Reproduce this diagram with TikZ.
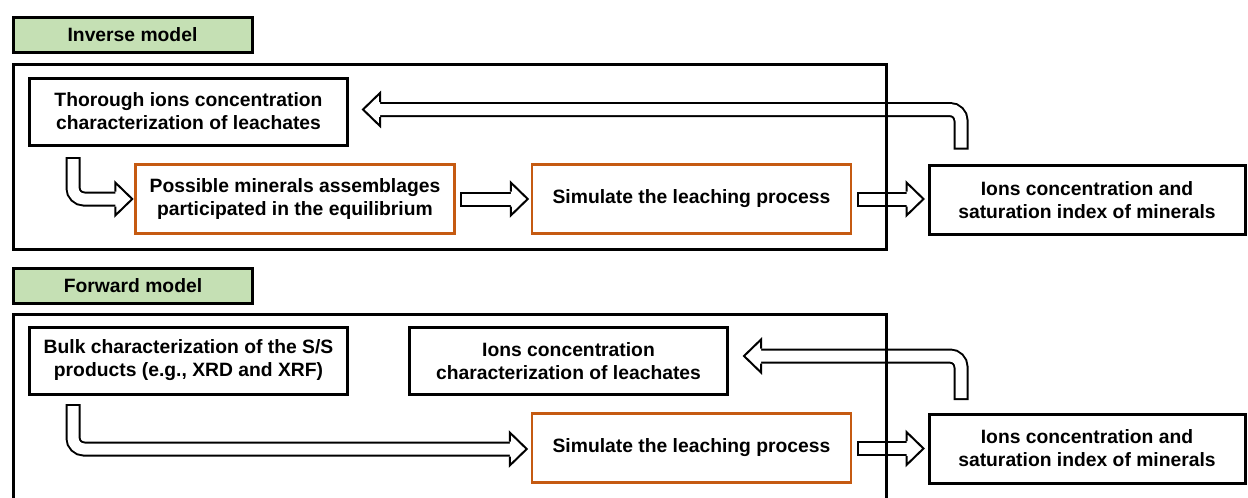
\documentclass[tikz,border=0pt]{standalone}
\usepackage{fontspec}
\setmainfont{Liberation Sans}
\usetikzlibrary{calc}

\definecolor{tabgreen}{HTML}{C5E0B4}
\definecolor{boxorange}{HTML}{C55A11}

% hollow arrow head, tip at #1, pointing along angle #2
\newcommand{\blockhead}[2]{%
  \filldraw[fill=white, line width=2pt, line join=miter, shift={(#1)}, rotate=#2]
    (-17,7.5) -- (-17,16.5) -- (0,0) -- (-17,-16.5) -- (-17,-7.5);}

\begin{document}
\begin{tikzpicture}[x=1pt, y=-1pt,
    every node/.style={font=\fontsize{19.3}{23}\selectfont\bfseries, align=center},
    box/.style={draw, line width=3pt, minimum width=318pt, minimum height=67pt},
    simbox/.style={draw=boxorange, line width=2.5pt, minimum width=319pt, minimum height=69pt},
    outbox/.style={draw, line width=3pt, minimum width=316pt, minimum height=69pt},
    tab/.style={draw, fill=tabgreen, line width=3pt, minimum width=239pt, minimum height=35pt},
    frame/.style={draw, line width=3pt},
    shaft/.style={line width=2pt, double=white, double distance=11pt, line cap=rect, rounded corners=11pt}]
  \useasboundingbox (0,0) rectangle (1248,498);

  % inverse model
  \node[tab] (invtab) at (132.5,35) {Inverse model};
  \node[box] (thorough) at (188.5,111.5) {Thorough ions concentration\\characterization of leachates};
  \node[simbox] (minerals) at (295,199) {Possible minerals assemblages\\participated in the equilibrium};
  \node[simbox] (sim1) at (691.5,199) {Simulate the leaching process};
  \node[outbox] (ions1) at (1087,200) {Ions concentration and\\saturation index of minerals};

  \coordinate (t1) at ($(minerals.west)+(-2,0)$);
  \coordinate (t2) at ($(sim1.west)+(-3,0)$);
  \coordinate (t3) at ($(ions1.west)+(-4,-1)$);
  \coordinate (t4) at ($(thorough.east)+(14,-2)$);
  \draw[shaft] ($(thorough.south)+(-115.5,18)$) |- ($(t1)+(-17,0)$);
  \blockhead{t1}{0}
  \draw[shaft] ($(minerals.east)+(11.5,0)$) -- ($(t2)+(-17,0)$);
  \blockhead{t2}{0}
  \draw[shaft] ($(sim1.east)+(12.5,0)$) -- ($(t3)+(-17,0)$);
  \blockhead{t3}{0}
  \draw[shaft] ($(ions1.north)+(-126,-22)$) |- ($(t4)+(17,0)$);
  \blockhead{t4}{180}

  \draw[frame] (13.5,64.5) rectangle (886.5,249.5);

  % forward model
  \node[tab] (fwdtab) at (133,286) {Forward model};
  \node[box] (bulk) at (188.5,360.5) {Bulk characterization of the S/S\\products (e.g., XRD and XRF)};
  \node[box] (ionschar) at (568.5,361) {Ions concentration\\characterization of leachates};
  \node[simbox] (sim2) at (691.5,448) {Simulate the leaching process};
  \node[outbox] (ions2) at (1087,448.5) {Ions concentration and\\saturation index of minerals};

  \coordinate (t5) at ($(sim2.west)+(-4,1)$);
  \coordinate (t6) at ($(ions2.west)+(-4,0)$);
  \coordinate (t7) at ($(ionschar.east)+(15,-5)$);
  \draw[shaft] ($(bulk.south)+(-115.5,16)$) |- ($(t5)+(-17,0)$);
  \blockhead{t5}{0}
  \draw[shaft] ($(sim2.east)+(12.5,0.5)$) -- ($(t6)+(-17,0)$);
  \blockhead{t6}{0}
  \draw[shaft] ($(ions2.north)+(-126,-20)$) |- ($(t7)+(17,0)$);
  \blockhead{t7}{180}

  \draw[frame] (13.5,500) |- (886.5,314.5) -- (886.5,500);
\end{tikzpicture}
\end{document}
